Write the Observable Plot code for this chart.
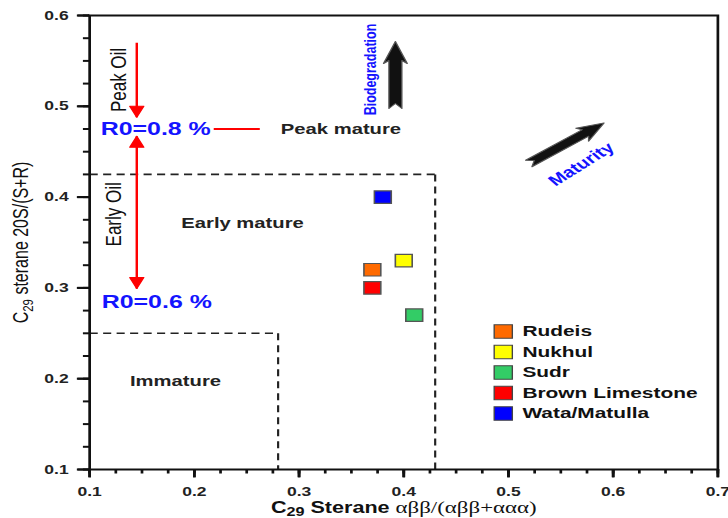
<!DOCTYPE html>
<html><head><meta charset="utf-8">
<script src="https://cdn.jsdelivr.net/npm/d3@7"></script>
<script src="https://cdn.jsdelivr.net/npm/@observablehq/plot@0.6"></script>
<style>
html,body{margin:0;padding:0;background:#fff;}
#chart svg{display:block;}
</style></head><body><div id="chart"></div>
<script>
// ---- data ----
const formations = ["Rudeis", "Nukhul", "Sudr", "Brown Limestone", "Wata/Matulla"];
const colors = ["#ff6a00", "#ffff00", "#33cc66", "#ff0000", "#0000ff"];
const steraneABB = [0.37, 0.40, 0.41, 0.37, 0.38];   // C29 aBB/(aBB+aaa)
const sterane20S = [0.32, 0.33, 0.27, 0.30, 0.40];   // C29 20S/(S+R)

const xTicks = [0.1, 0.2, 0.3, 0.4, 0.5, 0.6, 0.7];
const yTicks = [0.1, 0.2, 0.3, 0.4, 0.5, 0.6];

// zone boundaries (dashed)
const hBounds = [{x1: 0.1, x2: 0.43, y: 0.425}, {x1: 0.1, x2: 0.28, y: 0.25}];
const vBounds = [{x: 0.43, y1: 0.425, y2: 0.1}, {x: 0.28, y1: 0.25, y2: 0.1}];

const zoneNames = ["Peak mature", "Early mature", "Immature"];
const zoneX = [0.34, 0.246, 0.182];
const zoneY = [0.475, 0.371, 0.197];

const roNames = ["R0=0.8 %", "R0=0.6 %"];
const roX = [0.1105, 0.1115];
const roY = [0.475, 0.284];

const oilNames = ["Peak Oil", "Early Oil"];
const oilX = [0.128, 0.1225];
const oilY = [0.529, 0.381];

const arrowX = 0.145;
const peakArrow = {top: 0.570, tip: 0.488};
const earlyArrow = {top: 0.467, bottom: 0.2993};
const connector = {x1: 0.2185, x2: 0.2625, y: 0.475};

const bioArrow = {x: 0.392, y: 0.4976, length: 67, rotate: 0};
const matArrow = {x: 0.5194, y: 0.437, length: 69, rotate: 54};
const bioLabel = {x: 0.3685, y: 0.5405, text: "Biodegradation"};
const matLabel = {x: 0.5696, y: 0.436, text: "Maturity"};

const xTitle = "C29 Sterane αββ/(αββ+ααα)";
const yTitle = "C29 sterane 20S/(S+R)";

// ---- layout ----
const W = 540, H = 518;
const ML = 66, MR = 8, MT = 15, MB = 49;
const FONT = "'Liberation Sans', Arial, Helvetica, sans-serif";
const BLUE = "#1414ff";
const RED = "#ff0000";
const perPxY = 0.5 / (H - MT - MB);   // y data units per pixel
const perPxX = 0.6 / (W - ML - MR);   // x data units per pixel

const xMinor = d3.range(0, 25).map(i => 0.1 + i * 0.025);
const yMinor = d3.range(0, 21).map(i => 0.1 + i * 0.025);

const headShape = {
  draw(ctx, l) {
    const w = 5.2;
    ctx.moveTo(0, -l);
    ctx.lineTo(-w, 0);
    ctx.lineTo(w, 0);
    ctx.closePath();
  }
};
const blockShape = (sw, hw, hl) => ({
  draw(ctx, l) {
    const notch = 5;
    ctx.moveTo(0, -l);
    ctx.lineTo(hw, -l + hl);
    ctx.lineTo(sw, -l + hl - 3);
    ctx.lineTo(sw, 0);
    ctx.lineTo(0, -notch);
    ctx.lineTo(-sw, 0);
    ctx.lineTo(-sw, -l + hl - 3);
    ctx.lineTo(-hw, -l + hl);
    ctx.closePath();
  }
});

const idx = formations.map((_, i) => i);

const legendMarks = formations.flatMap((name, i) => [
  Plot.dot([name], {frameAnchor: "top-left", dx: 306.8, dy: 316 + 20.5 * i, symbol: "square", r: 7.6,
    fill: d => d, stroke: "#444", strokeWidth: 1}),
  Plot.text([name], {frameAnchor: "top-left", dx: 321, dy: 316 + 20.5 * i, text: d => d,
    textAnchor: "start", lineAnchor: "middle", fontSize: 15.5, fontWeight: "bold", fill: "#111"})
]);

const chart = Plot.plot({
  width: W, height: H,
  marginLeft: ML, marginRight: MR, marginTop: MT, marginBottom: MB,
  x: {domain: [0.1, 0.7], label: null},
  y: {domain: [0.1, 0.6], label: null},
  color: {domain: formations, range: colors},
  style: {fontFamily: FONT, color: "#111", background: "#fff"},
  marks: [
    // zone boundaries
    Plot.link(hBounds, {x1: "x1", x2: "x2", y1: "y", y2: "y", stroke: "#222", strokeWidth: 1.6, strokeDasharray: "6,4"}),
    Plot.link(vBounds, {x1: "x", x2: "x", y1: "y1", y2: "y2", stroke: "#222", strokeWidth: 1.6, strokeDasharray: "7,5"}),

    // zone labels
    Plot.text(zoneNames, {x: (d, i) => zoneX[i], y: (d, i) => zoneY[i], text: d => d, fontSize: 15,
      fontWeight: "bold", fill: "#222"}),

    // red arrows
    Plot.link([peakArrow], {x1: arrowX, x2: arrowX, y1: "top", y2: "tip", stroke: RED, strokeWidth: 1.8}),
    Plot.link([earlyArrow], {x1: arrowX, x2: arrowX, y1: "top", y2: "bottom", stroke: RED, strokeWidth: 1.8}),
    Plot.vector([peakArrow.tip, earlyArrow.bottom], {x: arrowX, y: d => d, length: 11, rotate: 180, anchor: "end",
      shape: headShape, fill: RED, stroke: RED, strokeWidth: 1}),
    Plot.vector([earlyArrow.top], {x: arrowX, y: d => d, length: 11, rotate: 0, anchor: "end",
      shape: headShape, fill: RED, stroke: RED, strokeWidth: 1}),
    Plot.link([connector], {x1: "x1", x2: "x2", y1: "y", y2: "y", stroke: RED, strokeWidth: 1.8}),

    // Ro labels
    Plot.text(roNames, {x: (d, i) => roX[i], y: (d, i) => roY[i], text: d => d, textAnchor: "start",
      fontSize: 18.5, fontWeight: "bold", fill: BLUE}),
    // oil window labels
    Plot.text(oilNames, {x: (d, i) => oilX[i], y: (d, i) => oilY[i], text: d => d, rotate: -90,
      fontSize: 17, fill: "#111"}),

    // block arrows
    Plot.vector([bioArrow], {x: "x", y: "y", length: bioArrow.length, rotate: bioArrow.rotate, anchor: "start",
      shape: blockShape(4.8, 8.8, 22), fill: "#111", stroke: "#555", strokeWidth: 1}),
    Plot.vector([matArrow], {x: "x", y: "y", length: matArrow.length, rotate: matArrow.rotate, anchor: "start",
      shape: blockShape(4, 8, 20), fill: "#111", stroke: "#555", strokeWidth: 1}),
    Plot.text([bioLabel], {x: "x", y: "y", text: "text", rotate: -90, fontSize: 12.5, fontWeight: "bold", fill: BLUE}),
    Plot.text([matLabel], {x: "x", y: "y", text: "text", rotate: -40, fontSize: 15, fontWeight: "bold", fill: BLUE}),

    // samples
    Plot.dot(idx, {x: i => steraneABB[i], y: i => sterane20S[i], fill: i => formations[i], symbol: "square",
      r: 7.05, stroke: "#555", strokeWidth: 1.2}),

    // legend
    ...legendMarks,

    // axis titles
    Plot.text([yTitle], {frameAnchor: "left", dx: -51, text: d => d, rotate: -90, textAnchor: "middle",
      lineAnchor: "middle", fontSize: 16, fill: "#111"}),
    Plot.text([xTitle], {frameAnchor: "bottom", dy: 38, text: d => d, textAnchor: "middle",
      lineAnchor: "middle", fontSize: 16, fill: "#111"}),

    // tick labels
    Plot.axisX(xTicks, {tickSize: 0, tickPadding: 17.5, tickFormat: d => d.toFixed(1), fontSize: 13,
      fontWeight: "bold", fill: "#222"}),
    Plot.axisY(yTicks, {tickSize: 0, tickPadding: 15.6, tickFormat: d => d.toFixed(1), fontSize: 13,
      fontWeight: "bold", fill: "#222"}),

    // tick marks, drawn last so that nothing can paint over them
    Plot.axisX(xMinor, {tickSize: 4.5, text: null, strokeWidth: 2, stroke: "#111"}),
    Plot.axisX(xTicks, {tickSize: 8, text: null, strokeWidth: 2, stroke: "#111"}),
    Plot.axisY(yMinor, {tickSize: 4.5, text: null, strokeWidth: 2, stroke: "#111"}),
    Plot.axisY(yTicks, {tickSize: 9, text: null, strokeWidth: 2, stroke: "#111"}),
    Plot.link(xTicks, {x1: d => d, x2: d => d, y1: 0.1, y2: 0.1 - 8 * perPxY, stroke: "#111", strokeWidth: 2}),
    Plot.link(yTicks, {y1: d => d, y2: d => d, x1: 0.1, x2: 0.1 - 9 * perPxX, stroke: "#111", strokeWidth: 2}),
    Plot.frame({stroke: "#111", strokeWidth: 2})
  ]
});

// subscripts / mixed styles in the axis titles
const NS = "http://www.w3.org/2000/svg";
function rebuild(el, parts) {
  while (el.firstChild) el.removeChild(el.firstChild);
  for (const p of parts) {
    const t = document.createElementNS(NS, "tspan");
    t.textContent = p.t;
    for (const [k, v] of Object.entries(p.a || {})) t.setAttribute(k, v);
    el.appendChild(t);
  }
}
chart.querySelectorAll("text").forEach(el => {
  if (el.textContent === yTitle) {
    rebuild(el, [
      {t: "C"},
      {t: "29", a: {"font-size": 11.5, dy: 4}},
      {t: " sterane 20S/(S+R)", a: {dy: -4}}
    ]);
  } else if (el.textContent === xTitle) {
    rebuild(el, [
      {t: "C", a: {"font-weight": "bold"}},
      {t: "29", a: {"font-size": 12, "font-weight": "bold", dy: 3}},
      {t: " Sterane ", a: {"font-weight": "bold", dy: -3}},
      {t: "αββ/(αββ+ααα)", a: {"font-family": "'Liberation Serif', 'DejaVu Serif', serif", "font-size": 17}}
    ]);
  }
});

// the reference figure is horizontally stretched: reproduce that by stretching the SVG
chart.setAttribute("viewBox", `0 0 ${W} ${H}`);
chart.setAttribute("preserveAspectRatio", "none");
chart.setAttribute("width", 728);
chart.setAttribute("height", H);
chart.style.maxWidth = "none";
chart.style.width = "728px";
chart.style.height = H + "px";

document.getElementById("chart").appendChild(chart);
</script>
</body></html>
